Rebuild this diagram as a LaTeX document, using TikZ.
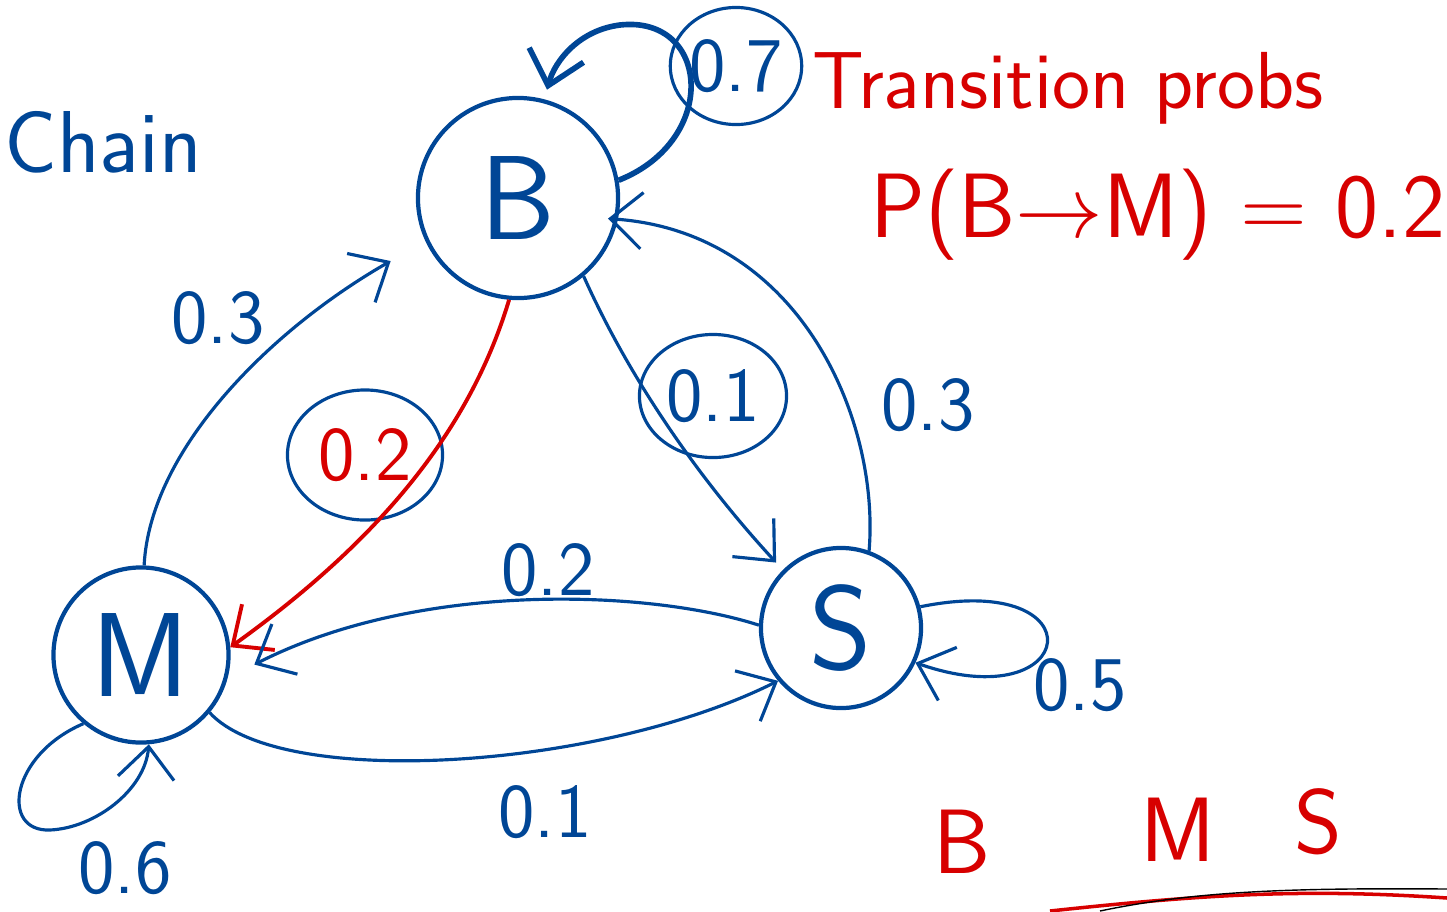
\documentclass[tikz,border=0pt]{standalone}
\usepackage{amsmath}
\usepackage{tikz}
\usetikzlibrary{arrows.meta, calc, positioning, shapes.geometric}

\definecolor{inkblue}{RGB}{0,70,150}
\definecolor{inkred}{RGB}{215,0,0}

\tikzset{
  state/.style={circle, draw=inkblue, line width=1.2pt, text=inkblue, font=\sffamily\fontsize{34}{38}\selectfont, inner sep=0pt},
  prob/.style={text=inkblue, font=\sffamily\fontsize{22}{26}\selectfont, inner sep=1pt},
  ring/.style={ellipse, draw=inkblue, line width=0.9pt, inner sep=0pt},
  link/.style={inkblue, line width=0.9pt, ->},
  note/.style={text=inkred, font=\sffamily\fontsize{26}{30}\selectfont}
}

\begin{document}
\begin{tikzpicture}[x=0.01cm, y=-0.01cm, >={Straight Barb[length=9pt, width=16pt]}]
    \useasboundingbox (0,0) rectangle (1447,911);

    % States
    \node[state, minimum size=2cm] (B) at (518,198) {B};
    \node[state, minimum size=1.75cm] (M) at (141,655) {M};
    \node[state, minimum size=1.6cm] (S) at (841,628) {S};

    % Headings
    \node[text=inkblue, font=\sffamily\fontsize{25}{30}\selectfont, anchor=west] (title) at (-8,142) {Chain};
    \node[note, font=\sffamily\fontsize{23}{28}\selectfont, anchor=west] (trans) at (800,88) {Transition probs};
    \node[note] (eq) at (1158,215) {P(B$\to$M) = 0.2};

    % Probabilities
    \node[prob, ring, minimum width=1.17cm, minimum height=1.17cm] (pBB) at (736,66) {0.7};
    \node[prob] (pMB) at (218,318) {0.3};
    \node[prob, ring, text=inkred, minimum width=1.55cm, minimum height=1.3cm] (pBM) at (365,455) {0.2};
    \node[prob, ring, minimum width=1.47cm, minimum height=1.23cm] (pBS) at (713,396) {0.1};
    \node[prob] (pSB) at (928,405) {0.3};
    \node[prob] (pSM) at (548,570) {0.2};
    \node[prob] (pMS) at (545,812) {0.1};
    \node[prob] (pSS) at (1080,685) {0.5};
    \node[prob] (pMM) at (125,868) {0.6};

    % Transitions
    \draw[link, line width=1.6pt, shorten >=0.1cm] (B.10) .. controls (720,140) and (710,15) .. (620,25) .. controls (580,30) and (555,60) .. (B.75);
    \draw[link, shorten >=0.4cm] (M.88) .. controls (150,450) and (270,330) .. (B.205);
    \draw[link, inkred, line width=1.1pt] (B.265) .. controls (470,430) and (380,540) .. (M.5);
    \draw[link, shorten >=0.1cm] (B.-50) .. controls (630,380) and (700,480) .. (S.135);
    \draw[link, shorten >=-0.1cm] (S.70) .. controls (880,420) and (800,230) .. (B.-12);
    \draw[link, shorten >=0.3cm] (S.178) .. controls (650,590) and (420,580) .. (M.-15);
    \draw[link] (M.-40) .. controls (280,790) and (600,770) .. (S.-140);
    \draw[link] (S.15) .. controls (1100,570) and (1080,720) .. (S.-25);
    \draw[link] (M.-130) .. controls (10,755) and (0,832) .. (50,830) .. controls (95,828) and (145,790) .. (M.-85);

    % Underline
    \draw[inkred, line width=1pt] (1050,911) .. controls (1200,895) and (1300,888) .. (1447,898);
    \draw[black, line width=0.4pt] (1100,911) .. controls (1200,890) and (1300,888) .. (1447,889);

    % Order
    \node[note] (lb) at (962,842) {B};
    \node[note] (lm) at (1178,830) {M};
    \node[note] (ls) at (1318,822) {S};
\end{tikzpicture}
\end{document}
